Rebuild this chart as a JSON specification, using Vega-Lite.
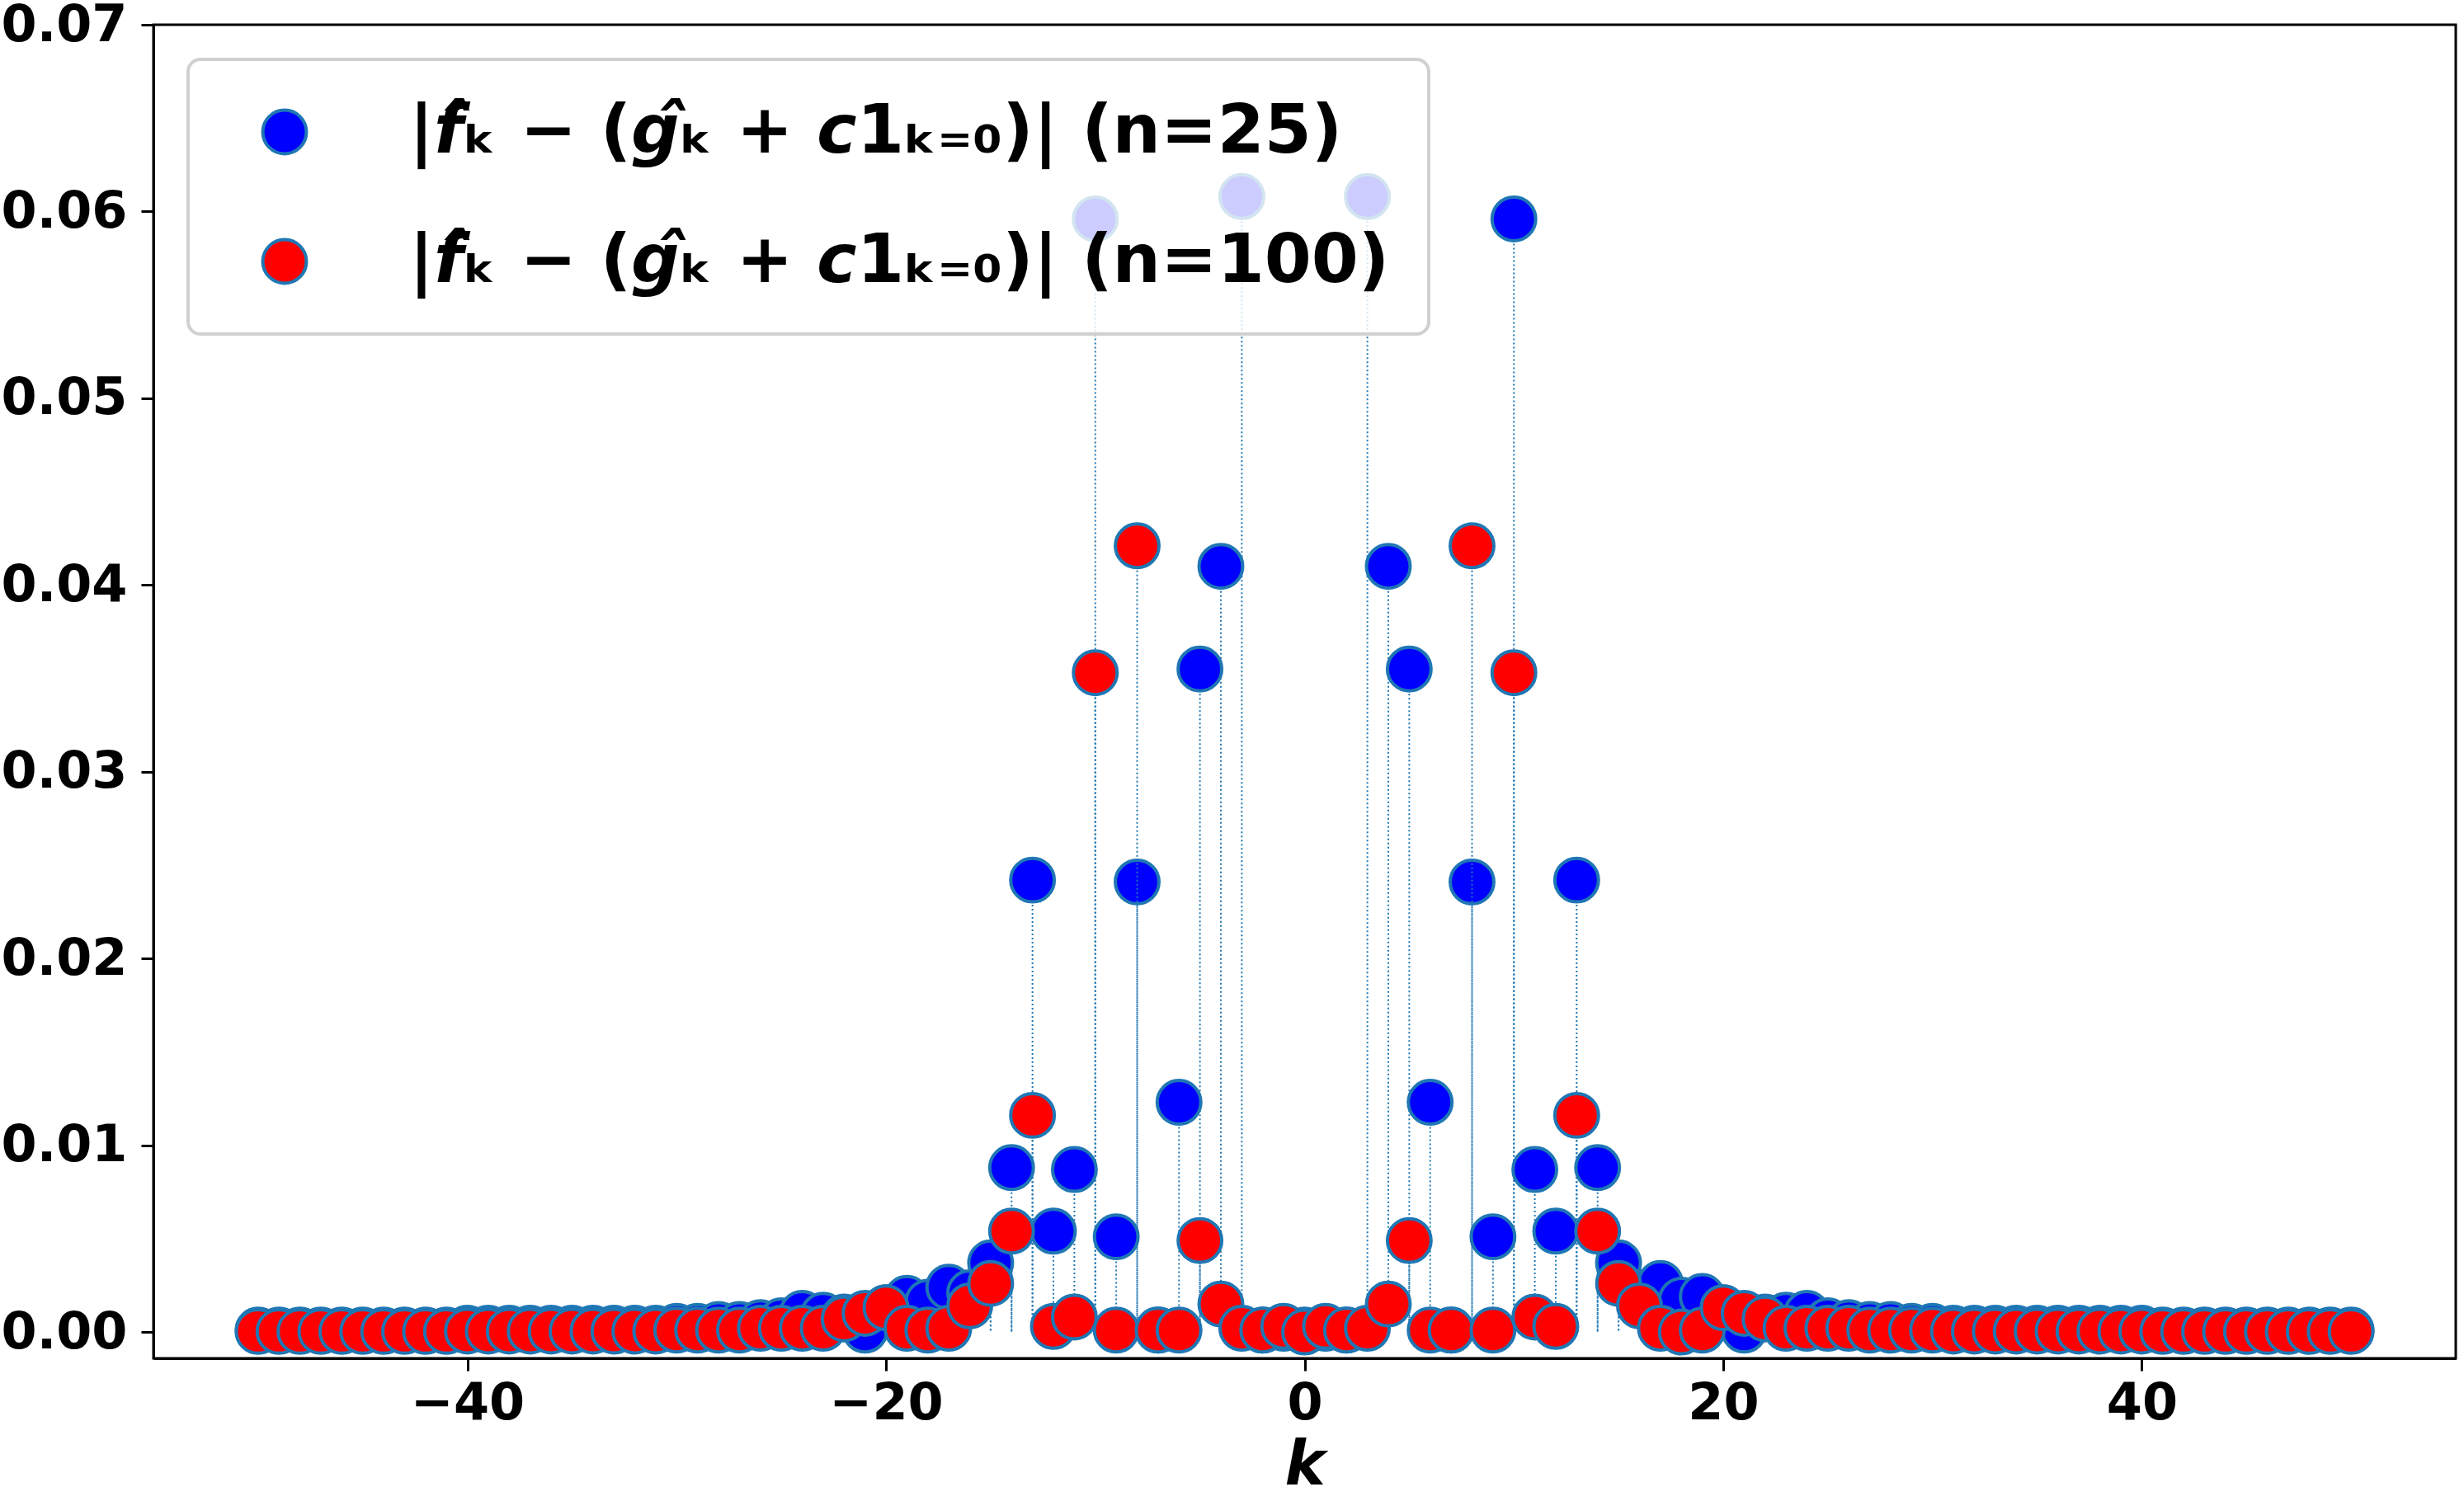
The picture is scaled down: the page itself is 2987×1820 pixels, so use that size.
{
  "$schema": "https://vega.github.io/schema/vega-lite/v6.json",
  "width": 2791,
  "height": 1617,
  "autosize": {"type": "none"},
  "padding": {"left": 186, "top": 30, "right": 10, "bottom": 173},
  "background": "white",
  "config": {
    "view": {"stroke": "black", "strokeWidth": 3},
    "font": "DejaVu Sans",
    "axis": {
      "domainColor": "black", "domainWidth": 3, "tickColor": "black", "tickWidth": 3, "tickSize": 15,
      "labelFont": "DejaVu Sans", "labelFontWeight": "bold", "labelFontSize": 62, "labelColor": "black",
      "grid": false, "titleColor": "black"
    },
    "legend": {
      "orient": "top-left", "offset": 42, "padding": 47, "rowPadding": 75, "cornerRadius": 15,
      "fillColor": "rgba(255,255,255,0.8)", "strokeColor": "#d0d0d0", "strokeWidth": 4,
      "labelFont": "DejaVu Sans", "labelFontSize": 82, "labelFontWeight": "bold", "labelColor": "black",
      "labelLimit": 3000, "symbolSize": 2800, "symbolType": "circle", "symbolStrokeWidth": 4,
      "symbolStrokeColor": "#1f77b4", "labelOffset": 110, "symbolOffset": 29, "zindex": 1
    }
  },
  "data": {"values": [
    {"k": -50, "a": 0.0001, "b": 0.00003}, {"k": -49, "a": 0.0001, "b": 0.00003}, {"k": -48, "a": 0.0001, "b": 0.00003}, {"k": -47, "a": 0.0001, "b": 0.00003}, {"k": -46, "a": 0.0001, "b": 0.00003},
    {"k": -45, "a": 0.0001, "b": 0.00003}, {"k": -44, "a": 0.0001, "b": 0.00003}, {"k": -43, "a": 0.0001, "b": 0.00003}, {"k": -42, "a": 0.0001, "b": 0.00003}, {"k": -41, "a": 0.0001, "b": 0.00003},
    {"k": -40, "a": 0.0002, "b": 0.00005}, {"k": -39, "a": 0.0002, "b": 0.00005}, {"k": -38, "a": 0.0002, "b": 0.00005}, {"k": -37, "a": 0.0002, "b": 0.00005}, {"k": -36, "a": 0.0002, "b": 0.00005},
    {"k": -35, "a": 0.0002, "b": 0.00005}, {"k": -34, "a": 0.0002, "b": 0.00005}, {"k": -33, "a": 0.0002, "b": 0.00005}, {"k": -32, "a": 0.0002, "b": 0.00005}, {"k": -31, "a": 0.0002, "b": 0.00005},
    {"k": -30, "a": 0.0003, "b": 0.0001}, {"k": -29, "a": 0.0003, "b": 0.0001}, {"k": -28, "a": 0.0004, "b": 0.0001}, {"k": -27, "a": 0.0004, "b": 0.0001}, {"k": -26, "a": 0.0005, "b": 0.0002},
    {"k": -25, "a": 0.0006, "b": 0.0002}, {"k": -24, "a": 0.0010, "b": 0.0002}, {"k": -23, "a": 0.0009, "b": 0.0002}, {"k": -22, "a": 0.0008, "b": 0.0007}, {"k": -21, "a": 0.0001, "b": 0.0010},
    {"k": -20, "a": 0.0013, "b": 0.0013}, {"k": -19, "a": 0.0018, "b": 0.0002}, {"k": -18, "a": 0.0016, "b": 0.0001}, {"k": -17, "a": 0.0024, "b": 0.0002}, {"k": -16, "a": 0.0021, "b": 0.0014},
    {"k": -15, "a": 0.0037, "b": 0.0026}, {"k": -14, "a": 0.0088, "b": 0.0054}, {"k": -13, "a": 0.0242, "b": 0.0116}, {"k": -12, "a": 0.0054, "b": 0.0003}, {"k": -11, "a": 0.0087, "b": 0.0008},
    {"k": -10, "a": 0.0596, "b": 0.0353}, {"k": -9, "a": 0.0051, "b": 0.0001}, {"k": -8, "a": 0.0241, "b": 0.0421}, {"k": -7, "a": 0.0001, "b": 0.0001}, {"k": -6, "a": 0.0123, "b": 0.0001},
    {"k": -5, "a": 0.0355, "b": 0.0049}, {"k": -4, "a": 0.0410, "b": 0.0015}, {"k": -3, "a": 0.0608, "b": 0.0002}, {"k": -2, "a": 0.0001, "b": 0.0001}, {"k": -1, "a": 0.0002, "b": 0.0003},
    {"k": 0, "a": 0.0001, "b": 0.0000},
    {"k": 1, "a": 0.0002, "b": 0.0003}, {"k": 2, "a": 0.0001, "b": 0.0001}, {"k": 3, "a": 0.0608, "b": 0.0002}, {"k": 4, "a": 0.0410, "b": 0.0015}, {"k": 5, "a": 0.0355, "b": 0.0049},
    {"k": 6, "a": 0.0123, "b": 0.0001}, {"k": 7, "a": 0.0001, "b": 0.0001}, {"k": 8, "a": 0.0241, "b": 0.0421}, {"k": 9, "a": 0.0051, "b": 0.0001}, {"k": 10, "a": 0.0596, "b": 0.0353},
    {"k": 11, "a": 0.0087, "b": 0.0008}, {"k": 12, "a": 0.0054, "b": 0.0003}, {"k": 13, "a": 0.0242, "b": 0.0116}, {"k": 14, "a": 0.0088, "b": 0.0054}, {"k": 15, "a": 0.0037, "b": 0.0026},
    {"k": 16, "a": 0.0021, "b": 0.0014}, {"k": 17, "a": 0.0026, "b": 0.0002}, {"k": 18, "a": 0.0017, "b": 0.0000}, {"k": 19, "a": 0.0019, "b": 0.0001}, {"k": 20, "a": 0.0013, "b": 0.0013},
    {"k": 21, "a": 0.0001, "b": 0.0010}, {"k": 22, "a": 0.0008, "b": 0.0007}, {"k": 23, "a": 0.0009, "b": 0.0002}, {"k": 24, "a": 0.0010, "b": 0.0002}, {"k": 25, "a": 0.0006, "b": 0.0002},
    {"k": 26, "a": 0.0005, "b": 0.0002}, {"k": 27, "a": 0.0004, "b": 0.0001}, {"k": 28, "a": 0.0004, "b": 0.0001}, {"k": 29, "a": 0.0003, "b": 0.0001}, {"k": 30, "a": 0.0003, "b": 0.0001},
    {"k": 31, "a": 0.0002, "b": 0.00005}, {"k": 32, "a": 0.0002, "b": 0.00005}, {"k": 33, "a": 0.0002, "b": 0.00005}, {"k": 34, "a": 0.0002, "b": 0.00005}, {"k": 35, "a": 0.0002, "b": 0.00005},
    {"k": 36, "a": 0.0002, "b": 0.00005}, {"k": 37, "a": 0.0002, "b": 0.00005}, {"k": 38, "a": 0.0002, "b": 0.00005}, {"k": 39, "a": 0.0002, "b": 0.00005}, {"k": 40, "a": 0.0002, "b": 0.00005},
    {"k": 41, "a": 0.0001, "b": 0.00003}, {"k": 42, "a": 0.0001, "b": 0.00003}, {"k": 43, "a": 0.0001, "b": 0.00003}, {"k": 44, "a": 0.0001, "b": 0.00003}, {"k": 45, "a": 0.0001, "b": 0.00003},
    {"k": 46, "a": 0.0001, "b": 0.00003}, {"k": 47, "a": 0.0001, "b": 0.00003}, {"k": 48, "a": 0.0001, "b": 0.00003}, {"k": 49, "a": 0.0001, "b": 0.00003}, {"k": 50, "a": 0.0001, "b": 0.00003}
  ]},
  "encoding": {
    "x": {"field": "k", "type": "quantitative", "title": "k",
      "scale": {"domain": [-55, 55], "nice": false, "zero": false},
      "axis": {"values": [-40, -20, 0, 20, 40], "format": "d", "labelPadding": 9,
        "titleFont": "DejaVu Sans", "titleFontSize": 74, "titleFontWeight": "bold", "titleFontStyle": "italic", "titlePadding": 9}}
  },
  "layer": [
    {"mark": {"type": "rule", "color": "#1f77b4", "strokeWidth": 2, "strokeDash": [2, 3]},
     "encoding": {"y": {"field": "a", "type": "quantitative"}, "y2": {"datum": 0}}},
    {"mark": {"type": "point", "filled": true, "opacity": 1, "size": 2800, "stroke": "#1f77b4", "strokeWidth": 4, "shape": "circle"},
     "encoding": {
       "y": {"field": "a", "type": "quantitative", "title": null,
         "scale": {"domain": [-0.00141, 0.07], "nice": false, "zero": false},
         "axis": {"values": [0, 0.01, 0.02, 0.03, 0.04, 0.05, 0.06, 0.07], "format": ".2f", "labelPadding": 17}},
       "color": {"datum": "A", "type": "nominal",
         "scale": {"domain": ["A", "B"], "range": ["#0000ff", "#ff0000"]},
         "legend": {"title": null, "labelExpr": "datum.value == 'A' ? '|\ud835\ude5b\u0302ₖ − (\ud835\ude5c\u0302ₖ + \ud835\ude581ₖ₌₀)| (n=25)' : '|\ud835\ude5b\u0302ₖ − (\ud835\ude5c\u0302ₖ + \ud835\ude581ₖ₌₀)| (n=100)'"}}
     }},
    {"mark": {"type": "rule", "color": "#1f77b4", "strokeWidth": 2, "strokeDash": [2, 3]},
     "encoding": {"y": {"field": "b", "type": "quantitative"}, "y2": {"datum": 0}}},
    {"mark": {"type": "point", "filled": true, "opacity": 1, "size": 2800, "stroke": "#1f77b4", "strokeWidth": 4, "shape": "circle"},
     "encoding": {
       "y": {"field": "b", "type": "quantitative"},
       "color": {"datum": "B", "type": "nominal"}
     }}
  ]
}
